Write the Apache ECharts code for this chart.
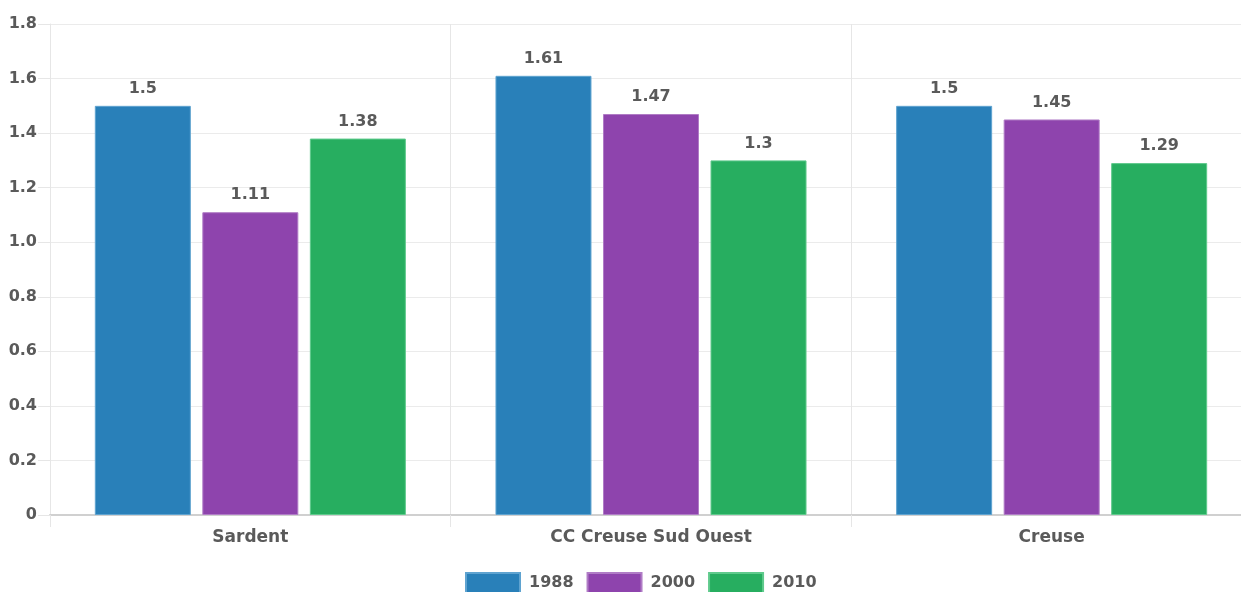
<!DOCTYPE html>
<html>
<head>
<meta charset="utf-8">
<script src="https://cdn.jsdelivr.net/npm/echarts@6/dist/echarts.min.js"></script>
<style>
  html, body { margin: 0; padding: 0; background: #fff; }
  #chart { width: 1241px; height: 592px; }
</style>
</head>
<body>
<div id="chart"></div>
<script>
  // data
  var categories = ['Sardent', 'CC Creuse Sud Ouest', 'Creuse'];
  var years = ['1988', '2000', '2010'];
  var values1988 = [1.5, 1.61, 1.5];
  var values2000 = [1.11, 1.47, 1.45];
  var values2010 = [1.38, 1.3, 1.29];
  var colors = ['#2980b9', '#8e44ad', '#27ae60'];
  var borders = ['#5fa3d0', '#b07cc6', '#5fca8c'];

  var font = '"DejaVu Sans", sans-serif';
  var fsize = 16;

  function makeSeries(name, data, i) {
    return {
      name: name,
      type: 'bar',
      data: data,
      barWidth: 96,
      barGap: '12%',
      itemStyle: { color: colors[i], borderColor: borders[i], borderWidth: 1 },
      label: {
        show: true,
        position: 'top',
        distance: 9,
        color: '#5a5a5a',
        fontFamily: font,
        fontWeight: 'bold',
        fontSize: fsize
      }
    }
  }

  var chart = echarts.init(document.getElementById('chart'))
  chart.setOption({
    animation: false,
    grid: { left: 50, top: 24, width: 1202, bottom: 77, containLabel: false, outerBoundsMode: 'none' },
    legend: {
      top: 572,
      left: 465,
      padding: 0,
      itemWidth: 54,
      itemHeight: 20,
      itemGap: 13,
      icon: 'rect',
      textStyle: { color: '#5a5a5a', fontFamily: font, fontWeight: 'bold', fontSize: fsize, padding: [0, 0, 0, 4] },
      data: years
    },
    xAxis: {
      type: 'category',
      data: categories,
      axisLine: { lineStyle: { color: '#d0d0d0', width: 2 } },
      axisTick: { show: true, length: 12, lineStyle: { color: '#e6e6e6' } },
      splitLine: { show: true, lineStyle: { color: '#e6e6e6' } },
      axisLabel: { color: '#5a5a5a', fontFamily: font, fontWeight: 'bold', fontSize: 17, margin: 14 }
    },
    yAxis: {
      type: 'value',
      min: 0,
      max: 1.8,
      interval: 0.2,
      axisLine: { show: true, lineStyle: { color: '#e6e6e6' } },
      axisTick: { show: true, length: 12, lineStyle: { color: '#e6e6e6' } },
      splitLine: { lineStyle: { color: '#ebebeb' } },
      axisLabel: {
        color: '#5a5a5a', fontFamily: font, fontWeight: 'bold', fontSize: fsize, margin: 13,
        formatter: function (v) { return v === 0 ? '0' : v.toFixed(1) }
      }
    },
    series: [
      makeSeries('1988', values1988, 0),
      makeSeries('2000', values2000, 1),
      makeSeries('2010', values2010, 2)
    ]
  })
</script>
</body>
</html>
